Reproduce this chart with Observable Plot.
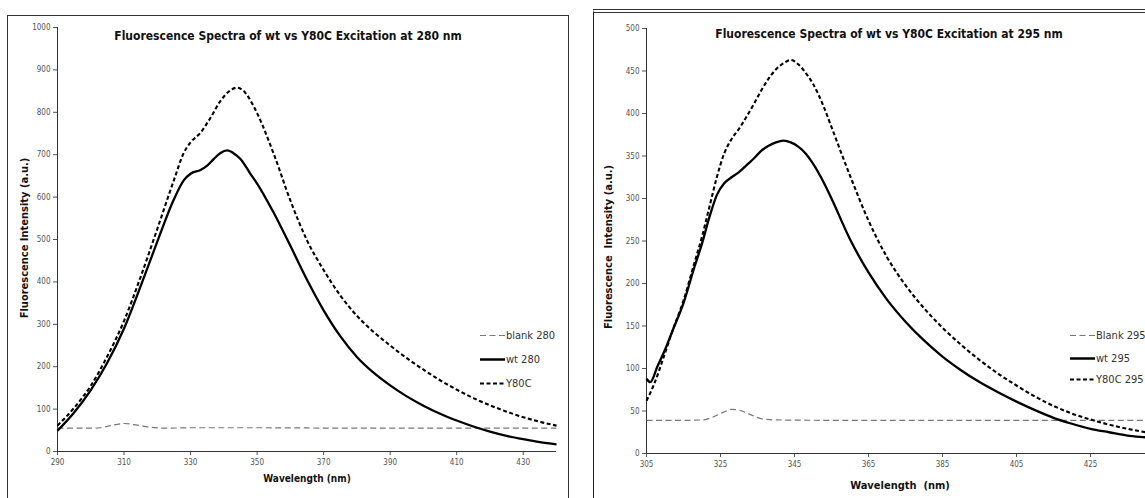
<!DOCTYPE html>
<html><head><meta charset="utf-8">
<script src="https://cdn.jsdelivr.net/npm/d3@7"></script>
<script src="https://cdn.jsdelivr.net/npm/@observablehq/plot@0.6"></script>
<style>
body{margin:0;background:#fff;}
#wrap{position:relative;width:1145px;height:498px;overflow:hidden;background:#fff;font-family:"DejaVu Sans Condensed","DejaVu Sans",sans-serif;}
.frame{position:absolute;box-sizing:border-box;}
#f1{left:7px;top:15px;width:562px;height:530px;border:1.5px solid #333;}
#f2{left:593px;top:9px;width:620px;height:530px;border-left:1.5px solid #222;border-top:4px double #333;}
.plot{position:absolute;top:0;}
.txt{position:absolute;white-space:nowrap;transform:translate(-50%,-50%);color:#111;}
.title{font-weight:bold;font-size:12px;}
.axt{font-weight:bold;font-size:10px;}
.axy{font-weight:bold;font-size:11px;transform:translate(-50%,-50%) rotate(-90deg);}
.leg{position:absolute;display:flex;align-items:center;font-size:11px;color:#333;white-space:nowrap;transform:translateY(-50%);}
.leg svg{margin-right:1px;}
</style></head>
<body><div id="wrap"></div>
<script>
// ---------- data ----------
const title280 = "Fluorescence Spectra of wt vs Y80C Excitation at 280 nm";
const title295 = "Fluorescence Spectra of wt vs Y80C Excitation at 295 nm";
const xTicks280 = [290,310,330,350,370,390,410,430];
const yTicks280 = [0,100,200,300,400,500,600,700,800,900,1000];
const xTicks295 = [305,325,345,365,385,405,425];
const yTicks295 = [0,50,100,150,200,250,300,350,400,450,500];
const legend280 = ["blank 280","wt 280","Y80C"];
const legend295 = ["Blank 295","wt 295","Y80C 295"];

const blank280X = [290,295,300,303,306,310,314,318,322,330,350,380,410,440];
const blank280Y = [55,55,55,56,61,66,62,57,55,56,56,55,55,55];
const wt280X = [290,295,300,305,310,315,320,325,328,330,333,335,337,339,341,343,345,348,350,355,360,365,370,375,380,385,390,395,400,405,410,415,420,425,430,435,440];
const wt280Y = [49,92,145,210,290,390,495,595,640,655,664,674,690,704,710,703,690,655,632,563,485,405,333,272,223,186,156,130,108,89,73,59,47,37,29,22,17];
const mut280X = [290,295,300,305,310,315,320,325,328,330,333,336,339,342,344,346,348,350,355,360,365,370,375,380,385,390,395,400,405,410,415,420,425,430,435,440];
const mut280Y = [61,103,155,225,308,412,525,640,705,729,752,787,827,852,858,850,828,798,702,592,498,428,368,320,282,250,220,193,168,146,126,109,94,81,70,61];

const blank295X = [305,315,320,323,326,328,330,333,336,340,360,400,445];
const blank295Y = [39,39,39.5,43,49,52,51,46,41,39.5,39,39,39];
const wt295X = [305,306,308,310,312,315,318,320,322,324,326,328,330,332,334,336,338,340,342,344,346,348,350,353,355,360,365,370,375,380,385,390,395,400,405,410,415,420,425,430,435,440,445];
const wt295Y = [88,84,103,122,144,177,220,247,278,304,318,325,331,339,347,356,362,366,368,366,361,353,341,318,300,252,213,181,155,133,114,98,84,72,61,51,42,35,29,25,21,19,17];
const mut295X = [305,307,310,312,315,318,320,322,324,326,328,330,332,334,336,338,340,342,344,346,348,350,353,355,360,365,370,375,380,385,390,395,400,405,410,415,420,425,430,435,440,445];
const mut295Y = [62,81,118,144,180,225,255,290,325,353,370,382,396,411,427,441,452,459,463,458,448,435,407,384,327,274,231,198,171,148,128,110,94,80,67,56,47,40,34,29,25,22];

// ---------- helpers ----------
const zip = (xs, ys) => xs.map((x, i) => ({x, y: ys[i]}));
const styles = [
  {stroke:"#777", strokeWidth:1.2, dash:"6,3.5"},
  {stroke:"#000", strokeWidth:2.3, dash:null},
  {stroke:"#000", strokeWidth:2.1, dash:"4,2.5"}
];
const font = '"DejaVu Sans Condensed","DejaVu Sans",sans-serif';

function makePlot(o) {
  return Plot.plot({
    width: o.width, height: 498,
    marginLeft: o.ml, marginRight: o.mr, marginTop: o.mt, marginBottom: o.mb,
    style: {background: "transparent", overflow: "visible", fontFamily: font},
    x: {domain: o.xDomain},
    y: {domain: o.yDomain},
    marks: [
      Plot.axisX({ticks: o.xTicks, tickSize: 4, tickPadding: 4, fontSize: 8, color: "#555", label: null, tickFormat: d => String(d)}),
      Plot.axisY({ticks: o.yTicks, tickSize: 4, tickPadding: 3, fontSize: 8, color: "#555", label: null, tickFormat: d => String(d)}),
      Plot.ruleX([o.xDomain[0]], {stroke: "#333", strokeWidth: 1}),
      Plot.ruleY([0], {stroke: "#333", strokeWidth: 1}),
      ...o.series.map((s, i) => Plot.line(s, {x: "x", y: "y", stroke: styles[i].stroke,
        strokeWidth: styles[i].strokeWidth, strokeDasharray: styles[i].dash,
        strokeLinecap: "butt", strokeLinejoin: "round", curve: "monotone-x"}))
    ]
  });
}

const wrap = document.getElementById("wrap");
function add(html) { wrap.insertAdjacentHTML("beforeend", html); }
add('<div class="frame" id="f1"></div><div class="frame" id="f2"></div>');

const p1 = makePlot({width: 580, ml: 57, mr: 24, mt: 27, mb: 47,
  xDomain: [290, 440], yDomain: [0, 1000], xTicks: xTicks280, yTicks: yTicks280,
  series: [zip(blank280X, blank280Y), zip(wt280X, wt280Y), zip(mut280X, mut280Y)]});
p1.classList.add("plot"); p1.style.left = "0px"; wrap.appendChild(p1);

const p2 = makePlot({width: 600, ml: 66, mr: 16, mt: 28, mb: 45,
  xDomain: [305, 445], yDomain: [0, 500], xTicks: xTicks295, yTicks: yTicks295,
  series: [zip(blank295X, blank295Y), zip(wt295X, wt295Y), zip(mut295X, mut295Y)]});
p2.classList.add("plot"); p2.style.left = "580px"; wrap.appendChild(p2);

function sample(i) {
  const s = styles[i];
  return `<svg width="25" height="6"><line x1="0" y1="3" x2="25" y2="3" stroke="${s.stroke}" stroke-width="${s.strokeWidth}" ${s.dash ? `stroke-dasharray="${s.dash}"` : ""}/></svg>`;
}
function legend(items, left, tops) {
  items.forEach((t, i) => add(`<div class="leg" style="left:${left}px;top:${tops[i]}px">${sample(i)}<span>${t}</span></div>`));
}

add(`<div class="txt title" style="left:288px;top:36px">${title280}</div>`);
add(`<div class="txt axt" style="left:307px;top:478px">Wavelength (nm)</div>`);
add(`<div class="txt axy" style="left:24px;top:238px">Fluorescence Intensity (a.u.)</div>`);
legend(legend280, 480, [335, 359, 383]);

add(`<div class="txt title" style="left:889px;top:34px">${title295}</div>`);
add(`<div class="txt axt" style="left:900px;top:485px;font-size:11px">Wavelength&nbsp; (nm)</div>`);
add(`<div class="txt axy" style="left:608px;top:247px">Fluorescence&nbsp; Intensity (a.u.)</div>`);
legend(legend295, 1070, [335, 358, 379]);
</script>
</body></html>
